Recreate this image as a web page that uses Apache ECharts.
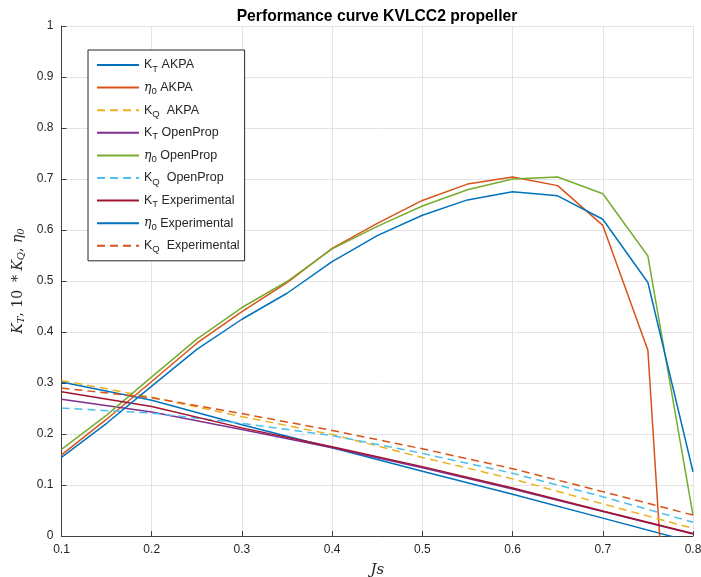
<!DOCTYPE html>
<html>
<head>
<meta charset="utf-8">
<script src="https://cdn.jsdelivr.net/npm/echarts@6/dist/echarts.min.js"></script>
<style>
  html, body { margin: 0; padding: 0; background: #fff; }
  #chart { width: 701px; height: 577px; }
</style>
</head>
<body>
<div id="chart"></div>
<script>
// Advance ratio samples
const jFine = [0.1, 0.15, 0.2, 0.25, 0.3, 0.35, 0.4, 0.45, 0.5, 0.55, 0.6, 0.65, 0.7, 0.75, 0.8];
const jCoarse = [0.1, 0.2, 0.3, 0.4, 0.5, 0.6, 0.7, 0.8];

// Open-water efficiency eta_0
const etaAkpa = [0.159, 0.229, 0.303, 0.378, 0.440, 0.497, 0.564, 0.613, 0.658, 0.690, 0.704, 0.687, 0.609, 0.364, -1.03];
const etaOpenProp = [0.170, 0.237, 0.312, 0.386, 0.448, 0.499, 0.563, 0.607, 0.647, 0.679, 0.700, 0.704, 0.671, 0.549, 0.041];
const etaExp = [0.154, 0.221, 0.294, 0.366, 0.425, 0.476, 0.538, 0.589, 0.629, 0.659, 0.675, 0.667, 0.621, 0.497, 0.126];

// Thrust coefficient K_T
const ktAkpa = [0.302, 0.266, 0.218, 0.173, 0.127, 0.082, 0.035, -0.012];
const ktOpenProp = [0.268, 0.243, 0.209, 0.173, 0.134, 0.092, 0.048, 0.004];
const ktExp = [0.283, 0.254, 0.212, 0.175, 0.136, 0.094, 0.049, 0.005];

// Torque coefficient 10*K_Q
const kqAkpa = [0.305, 0.272, 0.234, 0.199, 0.154, 0.112, 0.063, 0.015];
const kqOpenProp = [0.251, 0.241, 0.221, 0.197, 0.162, 0.123, 0.077, 0.027];
const kqExp = [0.290, 0.271, 0.240, 0.207, 0.171, 0.132, 0.087, 0.041];

const xTicks = [0.1, 0.2, 0.3, 0.4, 0.5, 0.6, 0.7, 0.8];

const C = {
  blue: '#0072BD', orange: '#D95319', yellow: '#EDB120', purple: '#7E2F8E',
  green: '#77AC30', cyan: '#4DBEEE', red: '#A2142F'
};

function pairs(xs, ys) { return xs.map((x, i) => [x, ys[i]]); }

function line(name, xs, ys, color, dashed) {
  return {
    name: name,
    type: 'line',
    data: pairs(xs, ys),
    symbol: 'none',
    clip: true,
    lineStyle: { color: color, width: 1.5, type: dashed ? [8, 5] : 'solid' },
    itemStyle: { color: color },
    emphasis: { disabled: true },
    animation: false
  };
}

const series = [
  line('KT AKPA', jCoarse, ktAkpa, C.blue, false),
  line('eta AKPA', jFine, etaAkpa, C.orange, false),
  line('KQ AKPA', jCoarse, kqAkpa, C.yellow, true),
  line('KT OpenProp', jCoarse, ktOpenProp, C.purple, false),
  line('eta OpenProp', jFine, etaOpenProp, C.green, false),
  line('KQ OpenProp', jCoarse, kqOpenProp, C.cyan, true),
  line('KT Experimental', jCoarse, ktExp, C.red, false),
  line('eta Experimental', jFine, etaExp, C.blue, false),
  line('KQ Experimental', jCoarse, kqExp, C.orange, true)
];

// Legend labels with subscripts
function legendLabel(name) {
  const parts = name.split(' ');
  const head = parts[0], rest = parts.slice(1).join(' ');
  if (head === 'KT') return '{m|K}{s|T}{m| ' + rest + '}';
  if (head === 'KQ') return '{m|K}{s|Q}{m|  ' + rest + '}';
  return '{e|\u03b7}{s|0}{m| ' + rest + '}';
}

const txt = '#262626';
const sans = 'Liberation Sans, Arial, Helvetica, sans-serif';
const serif = 'DejaVu Serif, Liberation Serif, serif';

const chart = echarts.init(document.getElementById('chart'), null, { renderer: 'canvas' });
chart.setOption({
  backgroundColor: '#ffffff',
  animation: false,
  title: {
    text: 'Performance curve KVLCC2 propeller',
    left: 372,
    textAlign: 'center',
    top: 4,
    textStyle: { fontFamily: sans, fontSize: 15.7, fontWeight: 'bold', color: '#000' }
  },
  grid: { left: 61.5, right: 8, top: 26, bottom: 41, containLabel: false, outerBoundsMode: 'none' },
  legend: {
    orient: 'vertical',
    left: 88,
    top: 50,
    padding: [6, 5, 6, 8],
    itemWidth: 42,
    itemHeight: 14,
    itemGap: 4.6,
    backgroundColor: '#fff',
    borderColor: '#262626',
    borderWidth: 1,
    borderRadius: 0,
    selectedMode: false,
    itemStyle: { opacity: 0 },
    formatter: legendLabel,
    textStyle: {
      color: txt,
      fontFamily: sans,
      fontSize: 12.5,
      rich: {
        m: { fontFamily: sans, fontSize: 12.5, color: txt, lineHeight: 16 },
        e: { fontFamily: serif, fontStyle: 'italic', fontSize: 12.5, color: txt, lineHeight: 16 },
        s: { fontFamily: sans, fontSize: 9.5, color: txt, lineHeight: 8, padding: [8, 0, 0, 0] }
      }
    }
  },
  xAxis: {
    type: 'value',
    min: 0.1,
    max: 0.8,
    interval: 0.1,
    name: '{i|Js}',
    nameLocation: 'middle',
    nameGap: 27,
    nameTextStyle: {
      rich: { i: { fontFamily: serif, fontStyle: 'italic', fontSize: 15, color: txt } }
    },
    axisLine: { show: true, onZero: false, lineStyle: { color: '#404040', width: 1 } },
    axisTick: { show: true, inside: true, length: 5, lineStyle: { color: '#404040' } },
    axisLabel: {
      color: txt, fontFamily: sans, fontSize: 12, margin: 8,
      formatter: v => xTicks.find(t => Math.abs(t - v) < 1e-9)?.toString() ?? ''
    },
    splitLine: { show: true, lineStyle: { color: '#e3e3e3', width: 1 } }
  },
  yAxis: {
    type: 'value',
    min: 0,
    max: 1,
    interval: 0.1,
    name: '{i|K}{s|T}{n|, 10 } {i|* K}{s|Q}{n|, }{i|\u03b7}{s|0}',
    nameLocation: 'middle',
    nameGap: 33,
    nameTextStyle: {
      rich: {
        i: { fontFamily: serif, fontStyle: 'italic', fontSize: 14, color: txt, lineHeight: 18 },
        n: { fontFamily: serif, fontSize: 14, color: txt, lineHeight: 18 },
        s: { fontFamily: serif, fontStyle: 'italic', fontSize: 10, color: txt, lineHeight: 12, padding: [6, 0, 0, 0] }
      }
    },
    axisLine: { show: true, onZero: false, lineStyle: { color: '#404040', width: 1 } },
    axisTick: { show: true, inside: true, length: 5, lineStyle: { color: '#404040' } },
    axisLabel: {
      color: txt, fontFamily: sans, fontSize: 12, margin: 8,
      formatter: v => String(Math.round(v * 10) / 10)
    },
    splitLine: { show: true, lineStyle: { color: '#e3e3e3', width: 1 } }
  },
  series: series
});
</script>
</body>
</html>
